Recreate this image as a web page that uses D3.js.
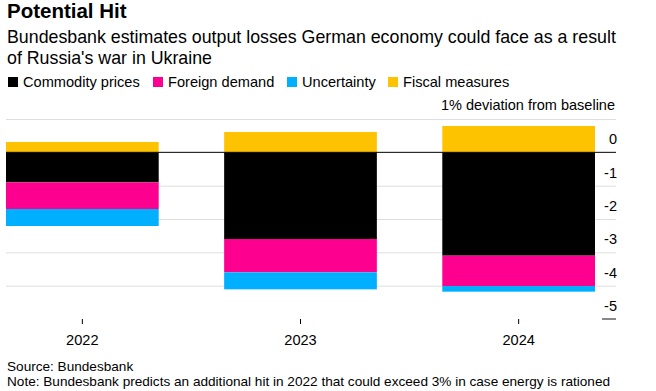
<!DOCTYPE html>
<html><head><meta charset="utf-8">
<script src="https://cdn.jsdelivr.net/npm/d3@7"></script>
<style>
body{margin:0;background:#fff;}
svg{display:block;font-family:"Liberation Sans",Arial,sans-serif;}
</style></head>
<body><svg id="c" width="656" height="391"></svg>
<script>
const years = ["2022","2023","2024"];
const seriesNames = ["Commodity prices","Foreign demand","Uncertainty","Fiscal measures"];
const commodity = [-0.9, -2.6, -3.1];
const foreign = [-0.8, -1.0, -0.91];
const uncertainty = [-0.51, -0.51, -0.17];
const fiscal = [0.31, 0.61, 0.79];
const colors = ["#000000","#fe0090","#00b0ff","#fec300"];
const yTicks = [1,0,-1,-2,-3,-4,-5];
const yTickLabels = ["","0","-1","-2","-3","-4","-5"];

const svg = d3.select("#c");
const rows = years.map((y,i)=>({year:y,"Commodity prices":commodity[i],"Foreign demand":foreign[i],"Uncertainty":uncertainty[i],"Fiscal measures":fiscal[i]}));
const stack = d3.stack().keys(seriesNames).offset(d3.stackOffsetDiverging);
const stacked = stack(rows);

const x = d3.scaleBand().domain(years).range([6,595]).paddingInner(0.3).paddingOuter(0);
const y = d3.scaleLinear().domain([1,-5]).range([119,319]);

// title
svg.append("text").attr("x",7).attr("y",18).attr("font-size",20.5).attr("font-weight","bold").attr("fill","#000").text("Potential Hit");
svg.append("text").attr("x",7).attr("y",43).attr("font-size",17.8).attr("fill","#000").text("Bundesbank estimates output losses German economy could face as a result");
svg.append("text").attr("x",7).attr("y",63.5).attr("font-size",17.8).attr("fill","#000").text("of Russia's war in Ukraine");

// legend
const legX = [8,153,287,388];
seriesNames.forEach((s,i)=>{
  svg.append("rect").attr("x",legX[i]).attr("y",77).attr("width",10).attr("height",10).attr("fill",colors[i]);
  svg.append("text").attr("x",legX[i]+15).attr("y",87).attr("font-size",14.6).attr("fill","#000").text(s);
});
svg.append("text").attr("x",615).attr("y",110).attr("text-anchor","end").attr("font-size",14.5).attr("fill","#000").text("1% deviation from baseline");

// gridlines
const grid = svg.append("g");
yTicks.forEach((t,i)=>{
  if(t===-5){
    grid.append("line").attr("x1",602).attr("x2",616).attr("y1",y(t)).attr("y2",y(t)).attr("stroke","#888").attr("stroke-width",2);
  } else if(t!==0){
    grid.append("line").attr("x1",6).attr("x2",616).attr("y1",y(t)+0.5).attr("y2",y(t)+0.5).attr("stroke","#dedede").attr("stroke-width",1);
  }
  if(yTickLabels[i]!==""){
    svg.append("text").attr("x",617).attr("y",y(t)-8).attr("text-anchor","end").attr("font-size",14.5).attr("fill","#000").text(yTickLabels[i]);
  }
});

// bars
svg.append("g").selectAll("g").data(stacked).join("g").attr("fill",(d,i)=>colors[i])
  .selectAll("rect").data(d=>d).join("rect")
  .attr("x",d=>x(d.data.year)).attr("width",x.bandwidth())
  .attr("y",d=>y(Math.max(d[0],d[1]))).attr("height",d=>Math.abs(y(d[0])-y(d[1])));

// zero line
svg.append("line").attr("x1",6).attr("x2",616).attr("y1",y(0)).attr("y2",y(0)).attr("stroke","#000").attr("stroke-width",1);

// x axis ticks + labels
years.forEach(yr=>{
  const cx = x(yr)+x.bandwidth()/2;
  svg.append("line").attr("x1",cx).attr("x2",cx).attr("y1",319).attr("y2",324).attr("stroke","#000").attr("stroke-width",1);
  svg.append("text").attr("x",cx).attr("y",345).attr("text-anchor","middle").attr("font-size",14.6).attr("fill","#000").text(yr);
});

// footer
svg.append("text").attr("x",7).attr("y",371).attr("font-size",13.6).attr("fill","#000").text("Source: Bundesbank");
svg.append("text").attr("x",7).attr("y",386).attr("font-size",13.6).attr("fill","#000").text("Note: Bundesbank predicts an additional hit in 2022 that could exceed 3% in case energy is rationed");
</script></body></html>
